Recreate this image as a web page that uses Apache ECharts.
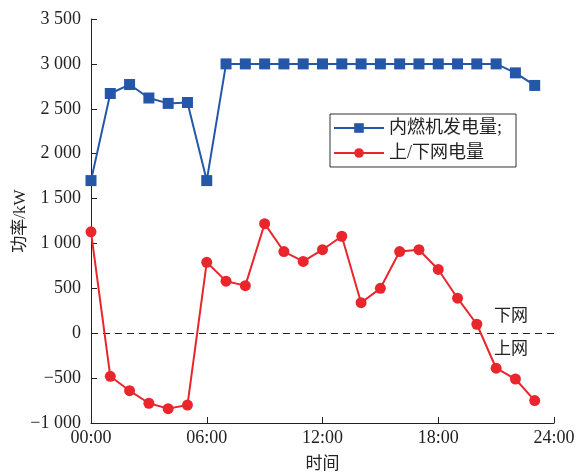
<!DOCTYPE html>
<html><head><meta charset="utf-8">
<script src="https://cdn.jsdelivr.net/npm/echarts@6/dist/echarts.min.js"></script>
<style>html,body{margin:0;padding:0;background:#fff}#c{width:581px;height:475px}</style>
</head><body><div id="c"></div>
<script>
var hours = [0,1,2,3,4,5,6,7,8,9,10,11,12,13,14,15,16,17,18,19,20,21,22,23];
var engineGen = [1700,2670,2770,2620,2560,2570,1700,3000,3000,3000,3000,3000,3000,3000,3000,3000,3000,3000,3000,3000,3000,3000,2900,2760];
var gridExchange = [1130,-480,-640,-780,-840,-800,790,580,530,1220,910,800,930,1080,340,500,910,930,710,390,100,-390,-510,-750];
var seriesNames = ['内燃机发电量;', '上/下网电量'];
var xTicks = ['00:00','06:00','12:00','18:00','24:00'];

var serif = '"Liberation Serif","Times New Roman","Noto Sans CJK SC",serif';
function pairs(v){ return hours.map(function(h,i){ return [h, v[i]]; }); }
function fmtY(v){
  var s = Math.abs(v).toString();
  if (s.length > 3) s = s.slice(0, s.length-3) + ' ' + s.slice(s.length-3);
  return (v < 0 ? '\u2212' : '') + s;
}
var chart = echarts.init(document.getElementById('c'));
chart.setOption({
  animation: false,
  grid: {left: 91, right: 27, top: 19, bottom: 52, containLabel: false, outerBoundsMode: 'none'},
  legend: {
    left: 330, top: 114, orient: 'vertical',
    data: seriesNames,
    borderColor: '#333', borderWidth: 1, padding: [5, 14, 5, 3],
    itemWidth: 50, itemHeight: 12, itemGap: 7,
    textStyle: {fontFamily: serif, fontSize: 18, color: '#222'}
  },
  xAxis: {
    type: 'value', min: 0, max: 24, interval: 6,
    name: '时间', nameLocation: 'middle', nameGap: 33,
    nameTextStyle: {fontFamily: serif, fontSize: 17, color: '#222'},
    axisLine: {onZero: false, lineStyle: {color: '#222', width: 1}},
    axisTick: {inside: true, length: 6, lineStyle: {color: '#222'}},
    splitLine: {show: false},
    axisLabel: {fontFamily: serif, fontSize: 18, color: '#222', margin: 6,
      formatter: function(v){ return xTicks[v/6]; }}
  },
  yAxis: {
    type: 'value', min: -1000, max: 3500, interval: 500,
    name: '功率/kW', nameLocation: 'middle', nameGap: 62, nameMoveOverlap: false,
    nameTextStyle: {fontFamily: serif, fontSize: 17, color: '#222'},
    axisLine: {show: true, onZero: false, lineStyle: {color: '#222', width: 1}},
    axisTick: {show: true, inside: true, length: 6, lineStyle: {color: '#222'}},
    splitLine: {show: false},
    axisLabel: {fontFamily: serif, fontSize: 18, color: '#222', margin: 10, formatter: fmtY}
  },
  series: [
    {
      name: seriesNames[0], type: 'line', data: pairs(engineGen),
      symbol: 'rect', symbolSize: 11,
      itemStyle: {color: '#2457a8'}, lineStyle: {color: '#2457a8', width: 2}
    },
    {
      name: seriesNames[1], type: 'line', data: pairs(gridExchange),
      symbol: 'circle', symbolSize: 11,
      itemStyle: {color: '#e8262c'}, lineStyle: {color: '#e8262c', width: 2},
      markLine: {
        silent: true, symbol: 'none', z: 1,
        lineStyle: {color: '#222', type: [7, 5], width: 1},
        data: [
          {yAxis: 0, lineStyle: {color: '#222', type: [7, 5], width: 1}, label: {show: true, position: 'insideEndTop', formatter: '下网', distance: [26, 8], fontFamily: serif, fontSize: 17, color: '#222'}},
          {yAxis: 0, lineStyle: {color: '#222', type: [7, 5], width: 1}, label: {show: true, position: 'insideEndBottom', formatter: '上网', distance: [26, 8], fontFamily: serif, fontSize: 17, color: '#222'}}
        ]
      }
    }
  ]
});
</script></body></html>
